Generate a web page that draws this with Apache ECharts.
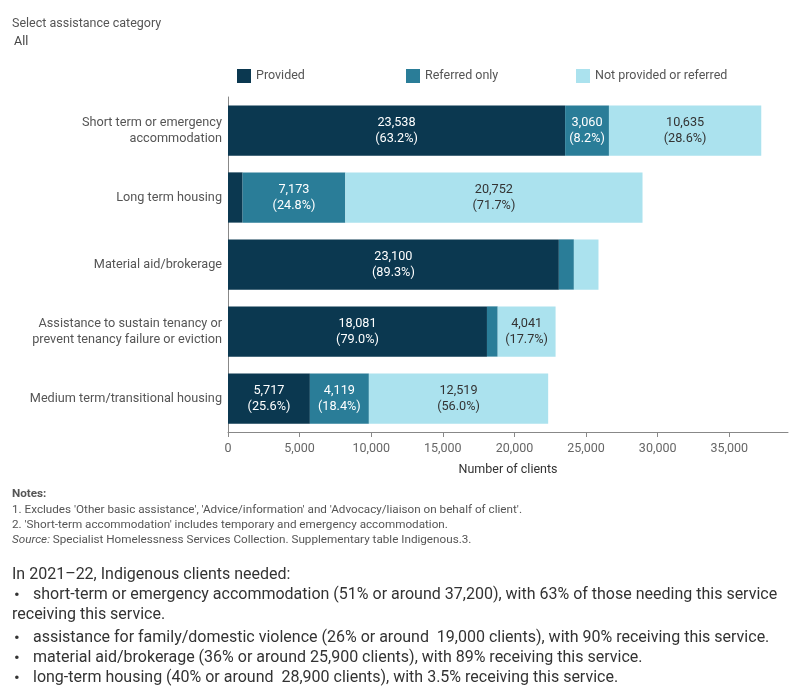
<!DOCTYPE html>
<html>
<head>
<meta charset="utf-8">
<script src="https://cdn.jsdelivr.net/npm/echarts@6/dist/echarts.min.js"></script>
<style>
  html, body { margin: 0; padding: 0; background: #fff; }
  #chart { width: 800px; height: 700px; }
</style>
</head>
<body>
<div id="chart"></div>
<script>
const categories = [
  'Short term or emergency\naccommodation',
  'Long term housing',
  'Material aid/brokerage',
  'Assistance to sustain tenancy or\nprevent tenancy failure or eviction',
  'Medium term/transitional housing',
]
const provided = [23538, 1018, 23100, 18081, 5717]
const referred = [3060, 7173, 1050, 750, 4119]
const notProvided = [10635, 20752, 1718, 4041, 12519]
const providedPct = [63.2, 3.5, 89.3, 79.0, 25.6]
const referredPct = [8.2, 24.8, 4.1, 3.3, 18.4]
const notProvidedPct = [28.6, 71.7, 6.6, 17.7, 56.0]
const seriesNames = ['Provided', 'Referred only', 'Not provided or referred']
const xTicks = [0, 5000, 10000, 15000, 20000, 25000, 30000, 35000]

const notes = [
  "1. Excludes 'Other basic assistance', 'Advice/information' and 'Advocacy/liaison on behalf of client'.",
  "2. 'Short-term accommodation' includes temporary and emergency accommodation.",
]
const summaryLines = [
  'short-term or emergency accommodation (51% or around 37,200), with 63% of those needing this service',
  'assistance for family/domestic violence (26% or around  19,000 clients), with 90% receiving this service.',
  'material aid/brokerage (36% or around 25,900 clients), with 89% receiving this service.',
  'long-term housing (40% or around  28,900 clients), with 3.5% receiving this service.',
]

const font = 'Roboto, "Noto Sans", sans-serif'
const colors = ['#0b3850', '#2a7d98', '#abe2ee']
const labelColors = ['#ffffff', '#ffffff', '#333333']

const fmt = (v) => v.toLocaleString('en-US')

const chart = echarts.init(document.getElementById('chart'))

const makeSeries = (name, data, pct, idx) => ({
  name,
  type: 'bar',
  stack: 'total',
  barCategoryGap: '25%',
  data,
  itemStyle: { color: colors[idx] },
  label: {
    show: true,
    position: 'inside',
    fontFamily: font,
    fontSize: 12.7,
    lineHeight: 16,
    color: labelColors[idx],
    formatter: (p) =>
      p.value < 2500 ? '' : `${fmt(p.value)}\n(${pct[p.dataIndex].toFixed(1)}%)`,
  },
  emphasis: { disabled: true },
})

const legendAt = (name, left) => ({
  data: [name],
  left,
  top: 64,
  itemWidth: 14,
  itemHeight: 14,
  icon: 'rect',
  selectedMode: false,
  textStyle: { fontFamily: font, fontSize: 12.5, color: '#555' },
})

const textEl = (text, left, top, style) => ({
  type: 'text',
  left,
  top,
  style: Object.assign({ text, fontFamily: font, fill: '#555', fontSize: 11.7 }, style),
})

const graphics = [
  textEl('Select assistance category', 12, 17, { fontSize: 12.5 }),
  textEl('All', 14, 35, { fontSize: 12.5, fill: '#444' }),
  textEl('Notes:', 12, 488, { fontWeight: 'bold', fill: '#555' }),
  textEl(notes[0], 12, 504),
  textEl(notes[1], 12, 519),
  {
    type: 'text',
    left: 12,
    top: 534,
    style: {
      text: '{i|Source:} Specialist Homelessness Services Collection. Supplementary table Indigenous.3.',
      fontFamily: font,
      fontSize: 11.7,
      fill: '#555',
      rich: { i: { fontStyle: 'italic', fontFamily: font, fontSize: 11.7, fill: '#555' } },
    },
  },
  textEl('In 2021–22, Indigenous clients needed:', 12, 567, { fontSize: 16, fill: '#333' }),
]
const bulletTops = [587, 630, 650, 670]
summaryLines.forEach((line, i) => {
  graphics.push(textEl('•', 14, bulletTops[i], { fontSize: 17, fill: '#333' }))
  graphics.push(textEl(line, 33, bulletTops[i], { fontSize: 16, fill: '#333' }))
})
graphics.push(textEl('receiving this service.', 12, 607, { fontSize: 16, fill: '#333' }))

chart.setOption({
  animation: false,
  backgroundColor: '#fff',
  textStyle: { fontFamily: font },
  legend: [
    legendAt(seriesNames[0], 232),
    legendAt(seriesNames[1], 401),
    legendAt(seriesNames[2], 571),
  ],
  grid: { left: 228, right: 12, top: 97, bottom: 268, containLabel: false },
  xAxis: {
    type: 'value',
    min: 0,
    max: 39100,
    interval: 5000,
    axisLine: { show: true, lineStyle: { color: '#888' } },
    axisTick: { show: true, length: 5, lineStyle: { color: '#888' } },
    splitLine: { show: false },
    axisLabel: {
      color: '#666',
      fontSize: 12.5,
      margin: 10,
      showMaxLabel: false,
      formatter: (v) => (xTicks.includes(v) ? fmt(v) : ''),
    },
    name: 'Number of clients',
    nameLocation: 'middle',
    nameGap: 31,
    nameTextStyle: { color: '#333', fontSize: 12.5, fontFamily: font },
  },
  yAxis: {
    type: 'category',
    inverse: true,
    data: categories,
    axisLine: { show: true, lineStyle: { color: '#888' } },
    axisTick: { show: false },
    axisLabel: {
      color: '#555',
      fontSize: 12.7,
      lineHeight: 16,
      margin: 6,
      align: 'right',
    },
  },
  series: [
    makeSeries(seriesNames[0], provided, providedPct, 0),
    makeSeries(seriesNames[1], referred, referredPct, 1),
    makeSeries(seriesNames[2], notProvided, notProvidedPct, 2),
  ],
  graphic: graphics,
})

window.addEventListener('resize', () => chart.resize())
</script>
</body>
</html>
